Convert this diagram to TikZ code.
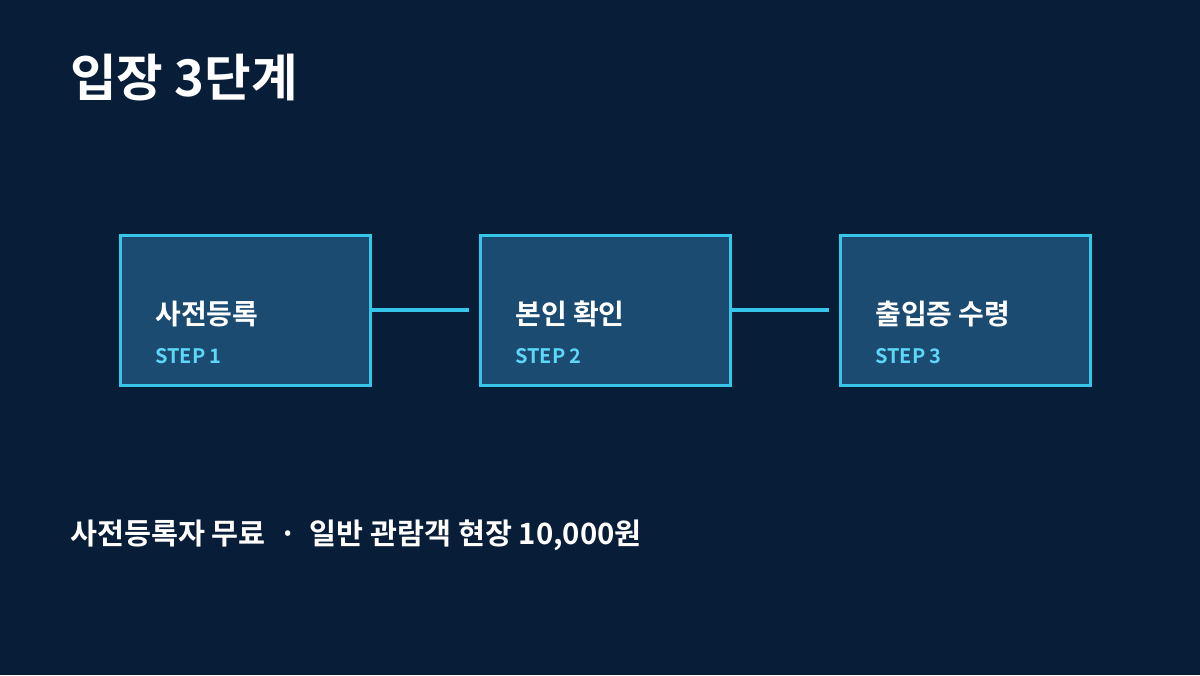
\documentclass[tikz,border=0pt]{standalone}
\usepackage{fontspec}
\setmainfont{Noto Sans CJK KR}[BoldFont={* Bold}]
\usetikzlibrary{positioning}
\definecolor{bgnavy}{HTML}{081D38}
\definecolor{boxfill}{HTML}{1B4B70}
\definecolor{boxline}{HTML}{35C6EA}
\definecolor{steptext}{HTML}{5CD8F6}
\tikzset{
  stepbox/.style={draw=boxline, fill=boxfill, line width=2.25pt, minimum width=187.5pt, minimum height=112.5pt, inner sep=0pt},
  steptitle/.style={anchor=base west, text=white, font=\bfseries\fontsize{21pt}{24pt}\selectfont},
  stepnum/.style={anchor=base west, text=steptext, font=\bfseries\fontsize{15pt}{18pt}\selectfont},
  link/.style={draw=boxline, line width=3pt}
}
\begin{document}
\begin{tikzpicture}[x=0.75pt, y=-0.75pt]
\fill[bgnavy] (0,0) rectangle (1200,675);
\useasboundingbox (0,0) rectangle (1200,675);
% title
\node[anchor=base west, text=white, font=\bfseries\fontsize{38pt}{42pt}\selectfont, inner sep=0pt] (title) at (70,96) {입장 3단계};
% boxes
\node[stepbox] (box1) at (245,310) {};
\node[stepbox] (box2) at (605,310) {};
\node[stepbox] (box3) at (965,310) {};
% labels
\node[steptitle, inner sep=0pt] (name1) at (155,324) {사전등록};
\node[stepnum, inner sep=0pt] (num1) at (155,363) {STEP 1};
\node[steptitle, inner sep=0pt] (name2) at (515,324) {본인 확인};
\node[stepnum, inner sep=0pt] (num2) at (515,363) {STEP 2};
\node[steptitle, inner sep=0pt] (name3) at (875,324) {출입증 수령};
\node[stepnum, inner sep=0pt] (num3) at (875,363) {STEP 3};
% connectors
\draw[link, shorten >=7.5pt] (box1.east) -- (box2.west);
\draw[link, shorten >=7.5pt] (box2.east) -- (box3.west);
% footnote
\node[anchor=base west, text=white, font=\bfseries\fontsize{22pt}{25pt}\selectfont, inner sep=0pt] (note) at (70,544) {사전등록자 무료 \ · \ 일반 관람객 현장 10,000원};
\end{tikzpicture}
\end{document}
